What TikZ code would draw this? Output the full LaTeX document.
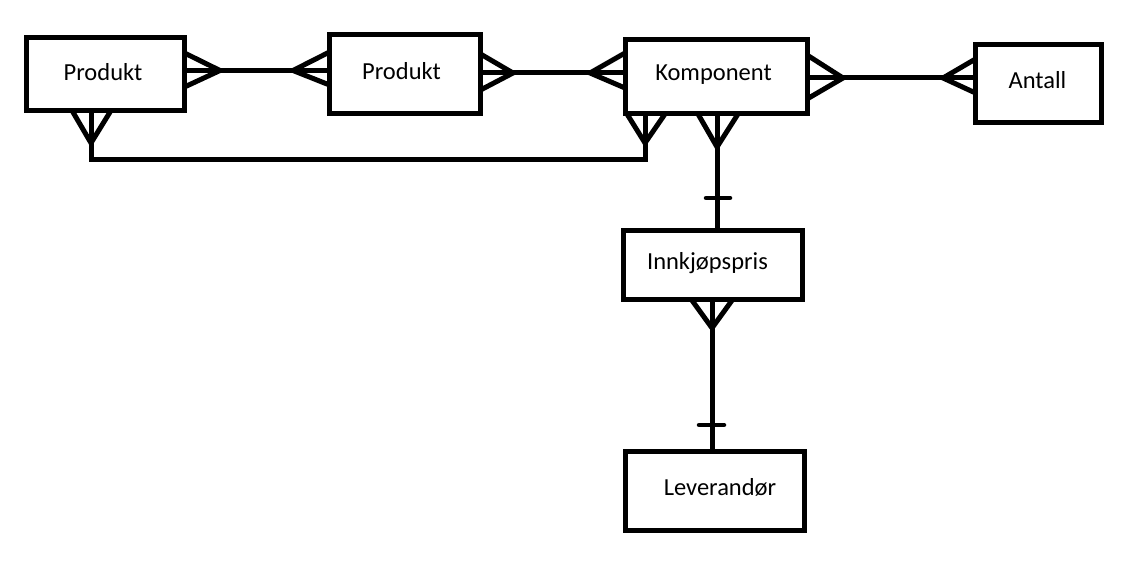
\documentclass[tikz,border=0pt]{standalone}
\usepackage{fontspec}
\setmainfont{Carlito}
\usetikzlibrary{calc}
\begin{document}
\begin{tikzpicture}[x=1pt,y=-1pt,line width=5pt,line join=miter,
  box/.style={draw,rectangle,inner sep=0pt,outer sep=0pt},
  lbl/.style={anchor=base,inner sep=0pt,font=\fontsize{24.5}{29}\selectfont},
  bar/.style={line width=4.5pt,line cap=round}]
\useasboundingbox (0,0) rectangle (1129,577);
% entity boxes
\node[box,minimum width=158,minimum height=73] (p1) at (105.5,74) {};
\node[box,minimum width=151,minimum height=79] (p2) at (405,74) {};
\node[box,minimum width=182,minimum height=74.5] (k) at (716,76.75) {};
\node[box,minimum width=126,minimum height=78] (a) at (1038.5,83.5) {};
\node[box,minimum width=179,minimum height=68.5] (i) at (712.5,264.75) {};
\node[box,minimum width=179.5,minimum height=79] (l) at (714.75,491) {};
% labels
\node[lbl] (tp1) at (103,81) {Produkt};
\node[lbl] (tp2) at (401.5,80) {Produkt};
\node[lbl] (tk) at (713.5,81) {Komponent};
\node[lbl] (ta) at (1037.5,89) {Antall};
\node[lbl] (ti) at (707.5,269.5) {Innkjøpspris};
\node[lbl] (tl) at (720,495) {Leverandør};
% Produkt -- Produkt
\coordinate (c1) at (220,70.5);
\coordinate (c2) at (293,70.5);
\draw (c1) -- (c2);
\draw (p1.east |- 0,53) -- (c1) -- (p1.east |- 0,87);
\draw (p1.east |- c1) -- (c1);
\draw (p2.west |- 0,52) -- (c2) -- (p2.west |- 0,85);
\draw (p2.west |- c2) -- (c2);
% Produkt -- Komponent
\coordinate (c3) at (513,73);
\coordinate (c4) at (590,73);
\draw (c3) -- (c4);
\draw (p2.east |- 0,54) -- (c3) -- (p2.east |- 0,90);
\draw (p2.east |- c3) -- (c3);
\draw (k.west |- 0,53) -- (c4) -- (k.west |- 0,88);
\draw (k.west |- c4) -- (c4);
% Komponent -- Antall
\coordinate (c5) at (843,78);
\coordinate (c6) at (943,78);
\draw (c5) -- (c6);
\draw (k.east |- 0,55) -- (c5) -- (k.east |- 0,99);
\draw (k.east |- c5) -- (c5);
\draw (a.west |- 0,59) -- (c6) -- (a.west |- 0,93);
\draw (a.west |- c6) -- (c6);
% Produkt (left) -- Komponent, along the bottom
\coordinate (c7) at (91,143);
\coordinate (c8) at (645,143);
\coordinate (b1) at (91,160);
\coordinate (b2) at (645,160);
\draw (c7) -- (b1) -- (b2) -- (c8);
\draw (72,0 |- p1.south) -- (c7) -- (111,0 |- p1.south);
\draw (c7 |- p1.south) -- (c7);
\draw (627,0 |- k.south) -- (c8) -- (665,0 |- k.south);
\draw (c8 |- k.south) -- (c8);
% Komponent -- Innkjopspris
\coordinate (c9) at (717,147);
\draw (c9) -- (c9 |- i.north);
\draw (698,0 |- k.south) -- (c9) -- (738,0 |- k.south);
\draw (c9 |- k.south) -- (c9);
\coordinate (m1) at (717,198);
\draw[bar] ($(m1)+(-11,0)$) -- ($(m1)+(13,0)$);
% Innkjopspris -- Leverandor
\coordinate (c10) at (712,328);
\draw (c10) -- (c10 |- l.north);
\draw (691,0 |- i.south) -- (c10) -- (733,0 |- i.south);
\draw (c10 |- i.south) -- (c10);
\coordinate (m2) at (712,425);
\draw[bar] ($(m2)+(-13,0)$) -- ($(m2)+(12,0)$);
\end{tikzpicture}
\end{document}
